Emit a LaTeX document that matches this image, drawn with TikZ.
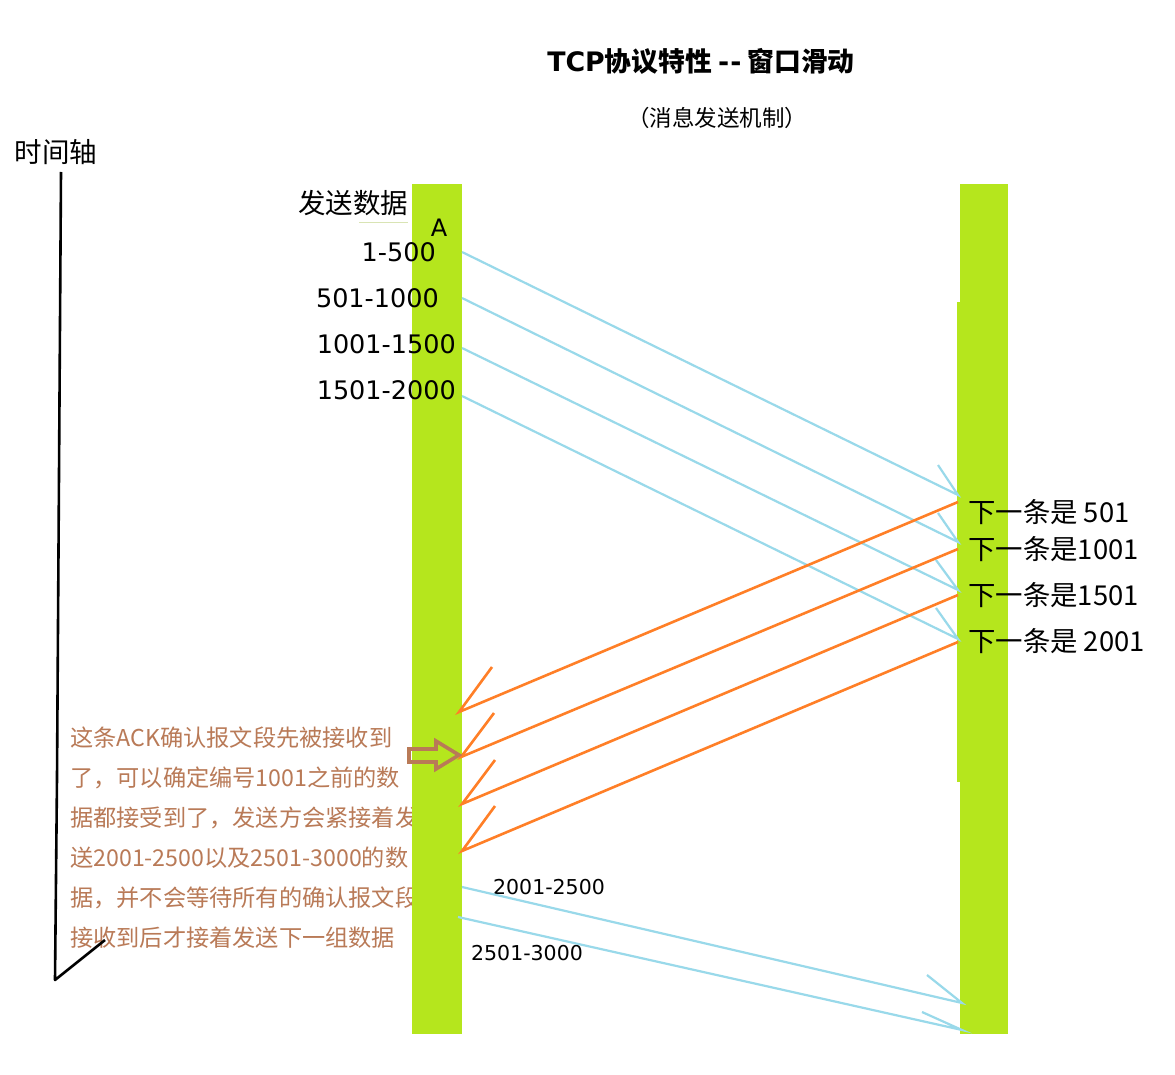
\documentclass[tikz,border=0pt]{standalone}
\usepackage{fontspec}
\setmainfont{Noto Sans CJK SC}
\newfontfamily\latinfont{DejaVu Sans}
\usepackage{xcolor}
\usepackage{tikz}
\usetikzlibrary{calc,positioning}
\definecolor{barGreen}{RGB}{181,230,29}
\definecolor{sendBlue}{RGB}{153,217,234}
\definecolor{ackOrange}{RGB}{255,127,39}
\definecolor{noteBrown}{RGB}{185,122,87}
\tikzset{
  bar/.style={fill=barGreen, draw=none},
  dataline/.style={sendBlue, line width=2.2pt},
  ackline/.style={ackOrange, line width=2.6pt},
  seglabel/.style={anchor=east, inner sep=0pt, font=\latinfont\fontsize{25.5}{30}\selectfont},
  acklabel/.style={anchor=west, inner sep=0pt, font=\fontsize{27.4}{30}\selectfont},
  noteline/.style={anchor=west, inner sep=0pt, text=noteBrown, font=\fontsize{23.2}{27}\selectfont},
}
\begin{document}
\begin{tikzpicture}[x=1pt,y=-1pt]
\useasboundingbox[fill=white] (0,0) rectangle (1175,1075);
% note text lies under the bar
\foreach \txt [count=\i] in {这条ACK确认报文段先被接收到,了，可以确定编号1001之前的数,据都接受到了，发送方会紧接着发,送2001-2500以及2501-3000的数,据，并不会等待所有的确认报文段,接收到后才接着发送下一组数据}
  \node[noteline] (note\i) at (70,{698+40*\i}) {\txt};
% two hosts
\fill[bar] (412,184) rectangle (462,1034);
\fill[bar] (960,184) rectangle (1008,1034);
\fill[bar] (957,302) rectangle (961,782);
% time axis
\coordinate (t0) at (61,172);
\coordinate (t1) at (57,778);
\coordinate (t2) at (55,980);
\coordinate (t3) at (105,940);
\draw[black, line width=2.6pt, line join=round] (t0)--(t1)--(t2)--(t3);
\node[font=\fontsize{27.5}{30}\selectfont, inner sep=0pt] (axis) at (56,152) {时间轴};
% titles
\node[font=\bfseries\fontsize{26.8}{30}\selectfont, inner sep=0pt] (title) at (701,61) {{\latinfont\bfseries TCP}协议特性 {\latinfont\bfseries -\kern1pt-} 窗口滑动};
\node[font=\fontsize{22.5}{26}\selectfont, inner sep=0pt] (subtitle) at (717,118) {（消息发送机制）};
\node[font=\fontsize{27.5}{30}\selectfont, inner sep=0pt] (sendlbl) at (353,203) {发送数据};
\draw[barGreen!60!gray!40, line width=0.8pt] (359,222) -- (408,222);
\node[font=\latinfont\fontsize{24}{28}\selectfont, inner sep=0pt] (hostA) at (439,228) {A};
% segments sent by A
\node[seglabel] (seg1) at (436,252) {1-500};
\node[seglabel] (seg2) at (439,298) {501-1000};
\node[seglabel] (seg3) at (456,344) {1001-1500};
\node[seglabel] (seg4) at (456,390) {1501-2000};
% replies at B
\node[acklabel] (ack1) at (968,512) {下一条是 501};
\node[acklabel] (ack2) at (968,549) {下一条是1001};
\node[acklabel] (ack3) at (968,595) {下一条是1501};
\node[acklabel] (ack4) at (968,641) {下一条是 2001};
% arrow ends
\coordinate (s1) at (462,252); \coordinate (r1) at (958,495); \coordinate (b1) at (938,465);
\coordinate (s2) at (462,298); \coordinate (r2) at (958,542); \coordinate (b2) at (938,513);
\coordinate (s3) at (462,348); \coordinate (r3) at (958,590); \coordinate (b3) at (936,560);
\coordinate (s4) at (462,396); \coordinate (r4) at (958,639); \coordinate (b4) at (936,608);
\foreach \i in {1,...,4}
  \draw[dataline] (s\i) -- (r\i) -- (b\i);
\coordinate (a1) at (958,502); \coordinate (e1) at (459,712); \coordinate (f1) at (492,667);
\coordinate (a2) at (958,549); \coordinate (e2) at (461,757); \coordinate (f2) at (494,713);
\coordinate (a3) at (958,595); \coordinate (e3) at (462,804); \coordinate (f3) at (495,760);
\coordinate (a4) at (958,642); \coordinate (e4) at (462,851); \coordinate (f4) at (495,806);
\foreach \i in {1,...,4}
  \draw[ackline] (a\i) -- (e\i) -- (f\i);
% pointer to the second ACK
\draw[noteBrown, line width=3.6pt, line join=miter] (409,749) -- (436,749) -- (436,741) -- (459,755) -- (436,769) -- (436,762) -- (409,762) -- cycle;
% next window
\node[font=\latinfont\fontsize{20.5}{24}\selectfont, inner sep=0pt] (seg5) at (549,887) {2001-2500};
\node[font=\latinfont\fontsize{20.5}{24}\selectfont, inner sep=0pt] (seg6) at (527,953) {2501-3000};
\coordinate (s5) at (462,887); \coordinate (r5) at (962,1003); \coordinate (b5) at (927,975);
\coordinate (s6) at (458,917); \coordinate (r6) at (962,1030); \coordinate (b6) at (922,1012);
\foreach \i in {5,6}
  \draw[dataline] (s\i) -- (r\i) -- (b\i);
\end{tikzpicture}
\end{document}
